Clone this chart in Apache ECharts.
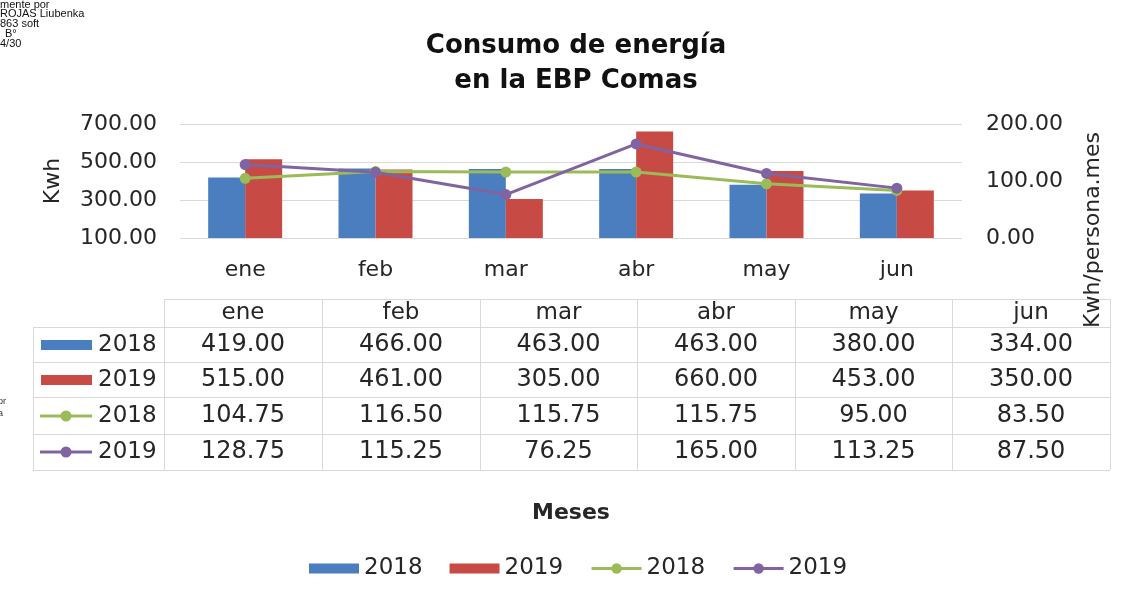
<!DOCTYPE html>
<html>
<head>
<meta charset="utf-8">
<title>Consumo de energía en la EBP Comas</title>
<script src="https://cdn.jsdelivr.net/npm/echarts@6/dist/echarts.min.js"></script>
<style>
  html, body { margin: 0; padding: 0; background: #ffffff; }
  #chart { width: 1130px; height: 595px; }
</style>
</head>
<body>
<div id="chart"></div>
<script>
// Monthly energy use (Kwh) and per-person consumption (Kwh/persona.mes)
const months = ['ene', 'feb', 'mar', 'abr', 'may', 'jun'];
const kwh2018 = [419, 466, 463, 463, 380, 334];
const kwh2019 = [515, 461, 305, 660, 453, 350];
const perPerson2018 = [104.75, 116.5, 115.75, 115.75, 95, 83.5];
const perPerson2019 = [128.75, 115.25, 76.25, 165, 113.25, 87.5];
const years = ['2018', '2019'];
const signatureLines = ['mente por', 'ROJAS Liubenka', '863 soft', 'B°', '4/30'];

const FONT = '"DejaVu Sans", sans-serif';
const INK = '#262626';
const GRID_LINE = '#d9d9d9';
const COLORS = { bar2018: '#4a7ebf', bar2019: '#c84a45', line2018: '#9bbb59', line2019: '#8064a2' };

const seriesNames = ['Kwh 2018', 'Kwh 2019', 'Kwh/persona.mes 2018', 'Kwh/persona.mes 2019'];
const yearOf = {};
seriesNames.forEach((n, i) => { yearOf[n] = years[i % 2]; });

// Data table rows (legend key + values), built from the series arrays
const tableRows = [
  { kind: 'bar', color: COLORS.bar2018, label: years[0], values: kwh2018 },
  { kind: 'bar', color: COLORS.bar2019, label: years[1], values: kwh2019 },
  { kind: 'line', color: COLORS.line2018, label: years[0], values: perPerson2018 },
  { kind: 'line', color: COLORS.line2019, label: years[1], values: perPerson2019 }
];

// Table layout
const colEdges = [164, 322, 480, 637, 795, 952, 1110];
const keyLeft = 33;
const headerTop = 299;
const rowEdges = [327, 362, 397, 434, 470];
const headerY = 313;
const rowY = [345, 380, 416, 452];

const graphics = [];

// signature stamp fragment in the top-left corner
signatureLines.forEach((t, i) => {
  graphics.push({
    type: 'text', left: i === 3 ? 5 : 0, top: i * 9.8 - 1,
    style: { text: t, font: '11px "Liberation Sans", Arial, sans-serif', fill: '#111' },
    silent: true
  });
});
graphics.push({ type: 'text', left: -2, top: 397, style: { text: 'or', font: '9px "Liberation Sans", sans-serif', fill: '#333' } });
graphics.push({ type: 'text', left: -2, top: 409, style: { text: 'a', font: '9px "Liberation Sans", sans-serif', fill: '#333' } });

// table grid lines
const hLine = (x1, x2, y) => ({ type: 'line', shape: { x1, y1: y + 0.5, x2, y2: y + 0.5 }, style: { stroke: GRID_LINE, lineWidth: 1 }, silent: true });
const vLine = (x, y1, y2) => ({ type: 'line', shape: { x1: x + 0.5, y1, x2: x + 0.5, y2 }, style: { stroke: GRID_LINE, lineWidth: 1 }, silent: true });
graphics.push(hLine(colEdges[0], colEdges[colEdges.length - 1], headerTop));
rowEdges.forEach(y => graphics.push(hLine(keyLeft, colEdges[colEdges.length - 1], y)));
graphics.push(vLine(keyLeft, rowEdges[0], rowEdges[rowEdges.length - 1]));
colEdges.forEach(x => graphics.push(vLine(x, headerTop, rowEdges[rowEdges.length - 1])));

// header
months.forEach((m, i) => {
  graphics.push({
    type: 'text', x: (colEdges[i] + colEdges[i + 1]) / 2, y: headerY,
    style: { text: m, font: '23px ' + FONT, fill: INK, align: 'center', verticalAlign: 'middle' },
    silent: true
  });
});

// rows
tableRows.forEach((row, r) => {
  const cy = rowY[r];
  if (row.kind === 'bar') {
    graphics.push({ type: 'rect', shape: { x: 41, y: cy - 5, width: 51, height: 10 }, style: { fill: row.color }, silent: true });
  } else {
    graphics.push({ type: 'line', shape: { x1: 40, y1: cy, x2: 92, y2: cy }, style: { stroke: row.color, lineWidth: 3 }, silent: true });
    graphics.push({ type: 'circle', shape: { cx: 66, cy: cy, r: 5.5 }, style: { fill: row.color }, silent: true });
  }
  graphics.push({
    type: 'text', x: 98, y: cy,
    style: { text: row.label, font: '23px ' + FONT, fill: INK, align: 'left', verticalAlign: 'middle' },
    silent: true
  });
  row.values.forEach((v, i) => {
    graphics.push({
      type: 'text', x: (colEdges[i] + colEdges[i + 1]) / 2, y: cy,
      style: { text: v.toFixed(2), font: '24px ' + FONT, fill: INK, align: 'center', verticalAlign: 'middle' },
      silent: true
    });
  });
});

// secondary axis title
graphics.push({
  type: 'text', x: 1093, y: 230, rotation: Math.PI / 2,
  style: { text: 'Kwh/persona.mes', font: '22px ' + FONT, fill: INK, align: 'center', verticalAlign: 'middle' },
  silent: true
});

const chart = echarts.init(document.getElementById('chart'), null, { renderer: 'canvas' });

// flat bar key for the legend (keeps its 5:1 proportion inside the item box)
const barKey = 'path://M0,0H50V10H0Z';

chart.setOption({
  backgroundColor: '#ffffff',
  animation: false,
  textStyle: { fontFamily: FONT },
  title: {
    text: 'Consumo de energía\nen la EBP Comas',
    left: 571, top: 24, textAlign: 'center',
    textStyle: { fontFamily: FONT, fontSize: 26, fontWeight: 'bold', color: '#111', lineHeight: 35 }
  },
  legend: {
    data: [
      { name: seriesNames[0], icon: barKey },
      { name: seriesNames[1], icon: barKey },
      { name: seriesNames[2] },
      { name: seriesNames[3] }
    ],
    formatter: name => yearOf[name],
    left: 304, top: 552,
    itemWidth: 50, itemHeight: 13, itemGap: 27,
    symbolKeepAspect: true,
    lineStyle: { width: 3 },
    textStyle: { fontFamily: FONT, fontSize: 23, color: INK }
  },
  grid: { left: 180, right: 168, top: 124, bottom: 357, containLabel: false, outerBoundsMode: 'none' },
  xAxis: {
    type: 'category',
    data: months,
    name: 'Meses',
    nameLocation: 'middle',
    nameGap: 264,
    nameTextStyle: { fontFamily: FONT, fontSize: 22, fontWeight: 'bold', color: INK },
    axisLine: { show: false },
    axisTick: { show: false },
    axisLabel: { fontFamily: FONT, fontSize: 22, color: INK, margin: 21 }
  },
  yAxis: [
    {
      type: 'value', min: 100, max: 700, interval: 200,
      name: 'Kwh', nameLocation: 'middle', nameRotate: 90, nameGap: 116,
      nameTextStyle: { fontFamily: FONT, fontSize: 22, color: INK },
      axisLine: { show: false }, axisTick: { show: false },
      axisLabel: { fontFamily: FONT, fontSize: 22, color: INK, margin: 23, formatter: v => v.toFixed(2) },
      splitLine: { show: true, lineStyle: { color: GRID_LINE, width: 1 } }
    },
    {
      type: 'value', min: 0, max: 200, interval: 100,
      axisLine: { show: false }, axisTick: { show: false },
      axisLabel: { fontFamily: FONT, fontSize: 22, color: INK, margin: 24, formatter: v => v.toFixed(2) },
      splitLine: { show: false }
    }
  ],
  series: [
    { name: seriesNames[0], type: 'bar', data: kwh2018, barWidth: 37, barGap: '0%', itemStyle: { color: COLORS.bar2018 } },
    { name: seriesNames[1], type: 'bar', data: kwh2019, barWidth: 37, barGap: '0%', itemStyle: { color: COLORS.bar2019 } },
    {
      name: seriesNames[2], type: 'line', yAxisIndex: 1, data: perPerson2018,
      symbol: 'circle', symbolSize: 11, lineStyle: { width: 3, color: COLORS.line2018 },
      itemStyle: { color: COLORS.line2018 }
    },
    {
      name: seriesNames[3], type: 'line', yAxisIndex: 1, data: perPerson2019,
      symbol: 'circle', symbolSize: 11, lineStyle: { width: 3, color: COLORS.line2019 },
      itemStyle: { color: COLORS.line2019 }
    }
  ],
  graphic: graphics
});
</script>
</body>
</html>
